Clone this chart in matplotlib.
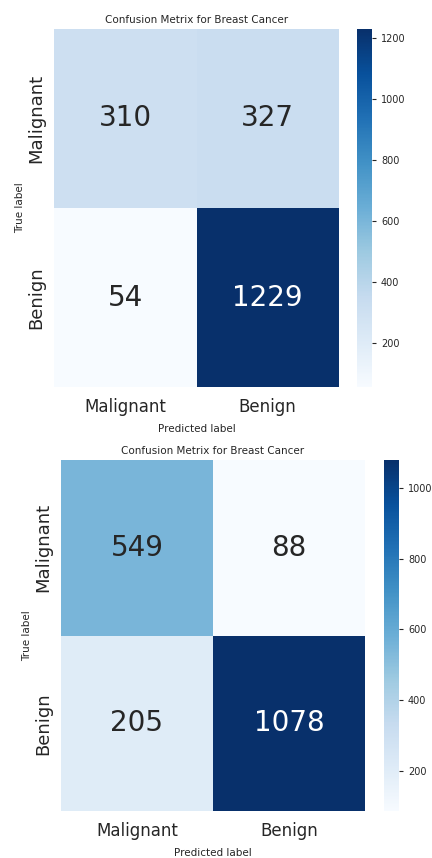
import matplotlib
matplotlib.use("Agg")
import matplotlib.pyplot as plt
import matplotlib.transforms as mtransforms
import numpy as np

labels = ["Malignant", "Benign"]
title = "Confusion Metrix for Breast Cancer"

cm_top = [[310, 327],
          [54, 1229]]
cm_bottom = [[549, 88],
             [205, 1078]]

top_ticks = [200, 400, 600, 800, 1000, 1200]
bottom_ticks = [200, 400, 600, 800, 1000]

W, H = 432, 858
TEXT = "#262626"


def px_box(x0, y0, x1, y1):
    # pixel box (top-left origin) -> figure fraction rect
    return [x0 / W, 1 - y1 / H, (x1 - x0) / W, (y1 - y0) / H]


def luminance(rgba):
    rgb = np.array(rgba[:3])
    rgb = np.where(rgb <= .03928, rgb / 12.92, ((rgb + .055) / 1.055) ** 2.4)
    return 0.2126 * rgb[0] + 0.7152 * rgb[1] + 0.0722 * rgb[2]


def draw_cm(fig, data, ax_box, cb_box, ticks):
    data = np.array(data)
    ax = fig.add_axes(px_box(*ax_box))
    cax = fig.add_axes(px_box(*cb_box))
    cmap = plt.get_cmap("Blues")
    vmin, vmax = data.min(), data.max()
    mesh = ax.pcolormesh(data, cmap=cmap, vmin=vmin, vmax=vmax)
    ax.set_xlim(0, 2)
    ax.set_ylim(2, 0)
    for i in range(2):
        for j in range(2):
            color = cmap((data[i, j] - vmin) / (vmax - vmin))
            tc = TEXT if luminance(color) > .408 else "white"
            ax.text(j + 0.5, i + 0.5, str(data[i, j]), ha="center",
                    va="center", fontsize=20, color=tc)
    ax.set_xticks([0.5, 1.5])
    ax.set_yticks([0.5, 1.5])
    ax.set_xticklabels(labels, fontsize=12, color=TEXT)
    ax.set_yticklabels(labels, fontsize=13, color=TEXT, rotation=90,
                       va="center")
    # labels sit a little above the row centres in the original
    shift = mtransforms.ScaledTranslation(0, 0.12, fig.dpi_scale_trans)
    for lab in ax.get_yticklabels():
        lab.set_transform(lab.get_transform() + shift)
    ax.tick_params(axis="x", length=0, pad=8)
    ax.tick_params(axis="y", length=0, pad=6)
    for s in ax.spines.values():
        s.set_visible(False)
    ax.set_xlabel("Predicted label", fontsize=7.5, color=TEXT, labelpad=6)
    ax.set_ylabel("True label", fontsize=7.5, color=TEXT, labelpad=2)
    ax.set_title(title, fontsize=7.5, color=TEXT, pad=4)

    cb = fig.colorbar(mesh, cax=cax)
    cb.outline.set_visible(False)
    cb.set_ticks(ticks)
    cax.tick_params(labelsize=7, colors=TEXT, length=3, width=0.8)
    return ax


fig = plt.figure(figsize=(W / 100, H / 100), dpi=100)

draw_cm(fig, cm_top, (54, 29, 339, 387), (357, 29, 372, 387), top_ticks)
draw_cm(fig, cm_bottom, (61, 460, 365, 811), (384, 460, 399, 811),
        bottom_ticks)

fig.savefig("out.png", dpi=100)
